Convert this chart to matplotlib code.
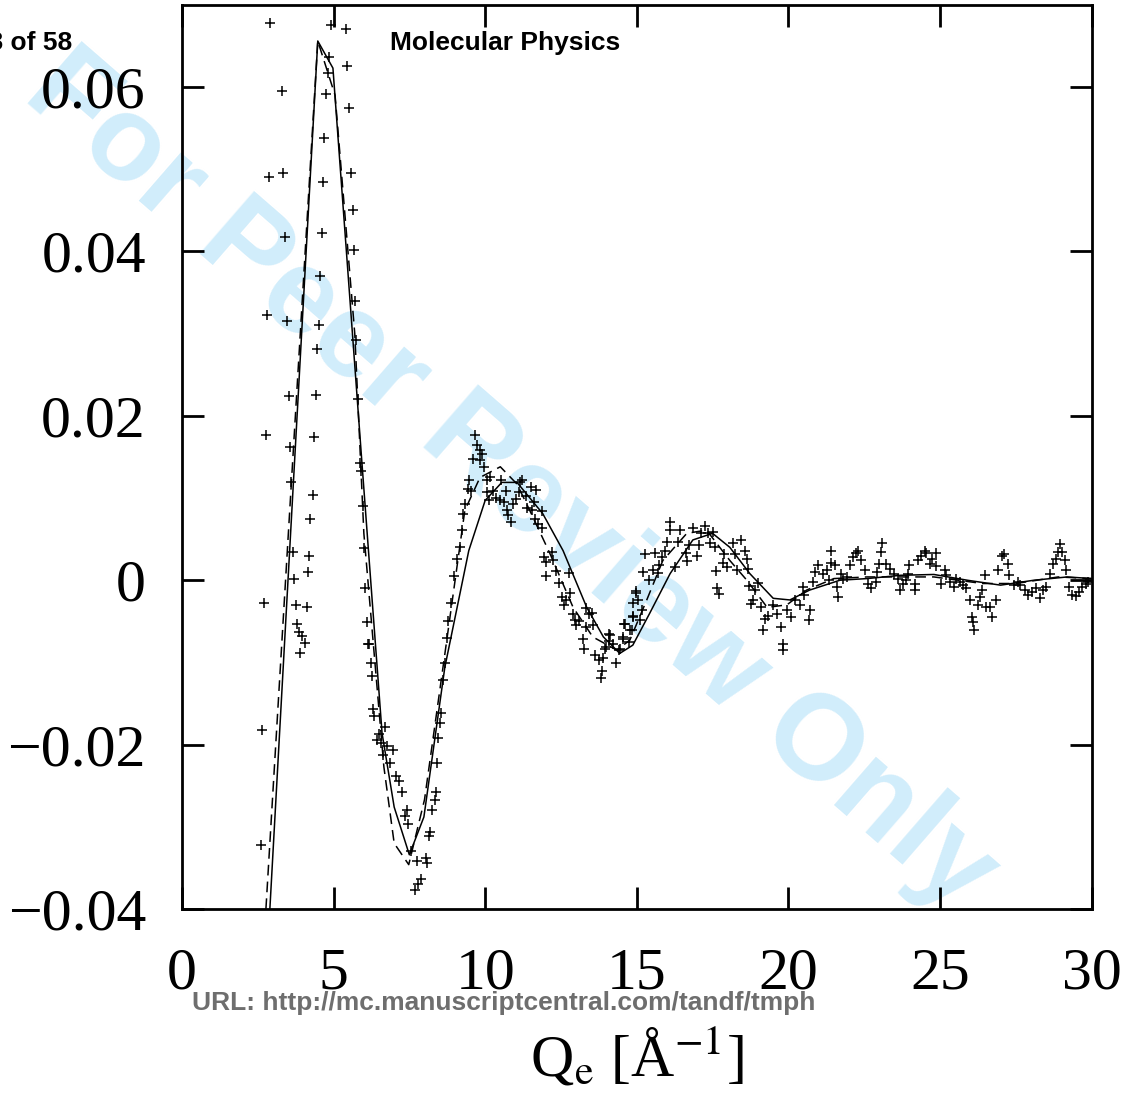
import numpy as np
import matplotlib
matplotlib.use('Agg')
import matplotlib.pyplot as plt

plt.rcParams['mathtext.fontset'] = 'stix'

# experimental points (Q_e, signal)
exp_points = [
    (2.60, -0.0322), (2.64, -0.0182), (2.70, -0.0028), (2.76, 0.0177), (2.81, 0.0323),
    (2.86, 0.0491), (2.90, 0.0678), (3.30, 0.0595), (3.34, 0.0495), (3.40, 0.0417),
    (3.47, 0.0315), (3.52, 0.0224), (3.56, 0.0162), (3.60, 0.0119), (3.65, 0.0034),
    (3.69, 0.0002), (3.76, -0.0030), (3.80, -0.0053), (3.87, -0.0063), (3.89, -0.0089),
    (3.96, -0.0068), (4.05, -0.0076), (4.11, -0.0032), (4.15, 0.0010), (4.20, 0.0029),
    (4.24, 0.0074), (4.31, 0.0104), (4.35, 0.0174), (4.41, 0.0225), (4.46, 0.0281),
    (4.51, 0.0310), (4.55, 0.0370), (4.61, 0.0423), (4.66, 0.0484), (4.70, 0.0538),
    (4.75, 0.0591), (4.81, 0.0617), (4.86, 0.0637), (4.90, 0.0675), (5.41, 0.0671),
    (5.45, 0.0626), (5.50, 0.0575), (5.56, 0.0496), (5.63, 0.0450), (5.67, 0.0402),
    (5.70, 0.0340), (5.74, 0.0292), (5.80, 0.0220), (5.87, 0.0143), (5.89, 0.0133),
    (5.98, 0.0090), (6.00, 0.0039), (6.04, -0.0009), (6.09, -0.0051), (6.13, -0.0078),
    (6.18, -0.0078), (6.22, -0.0101), (6.26, -0.0117), (6.31, -0.0157), (6.35, -0.0165),
    (6.44, -0.0194), (6.51, -0.0187), (6.57, -0.0198), (6.62, -0.0213), (6.70, -0.0178),
    (6.77, -0.0202), (6.86, -0.0222), (6.95, -0.0207), (7.06, -0.0238), (7.17, -0.0244),
    (7.25, -0.0258), (7.36, -0.0287), (7.41, -0.0279), (7.45, -0.0296), (7.54, -0.0330),
    (7.69, -0.0377), (7.76, -0.0341), (7.80, -0.0369), (7.87, -0.0363), (8.04, -0.0338),
    (8.09, -0.0344), (8.16, -0.0311), (8.18, -0.0306), (8.26, -0.0279), (8.33, -0.0267),
    (8.37, -0.0258), (8.42, -0.0222), (8.46, -0.0192), (8.51, -0.0174), (8.55, -0.0162),
    (8.60, -0.0121), (8.66, -0.0101), (8.73, -0.0070), (8.79, -0.0049), (8.88, -0.0028),
    (8.97, 0.0005), (9.06, 0.0026), (9.17, 0.0041), (9.23, 0.0061), (9.28, 0.0081),
    (9.32, 0.0093), (9.43, 0.0111), (9.47, 0.0122), (9.52, 0.0109), (9.61, 0.0148),
    (9.65, 0.0177), (9.72, 0.0164), (9.83, 0.0158), (9.83, 0.0146), (9.89, 0.0153),
    (9.96, 0.0138), (10.05, 0.0107), (10.07, 0.0122), (10.13, 0.0098), (10.15, 0.0126),
    (10.27, 0.0109), (10.35, 0.0100), (10.48, 0.0098), (10.51, 0.0122), (10.62, 0.0095),
    (10.68, 0.0109), (10.71, 0.0085), (10.76, 0.0079), (10.84, 0.0071), (10.92, 0.0093),
    (11.01, 0.0099), (11.12, 0.0107), (11.14, 0.0119), (11.23, 0.0122), (11.34, 0.0102),
    (11.39, 0.0088), (11.50, 0.0113), (11.56, 0.0085), (11.61, 0.0095), (11.64, 0.0075),
    (11.69, 0.0110), (11.75, 0.0069), (11.87, 0.0063), (11.89, 0.0084), (11.94, 0.0028),
    (12.02, 0.0022), (12.02, 0.0005), (12.22, 0.0034), (12.24, 0.0024), (12.35, 0.0011),
    (12.44, -0.0003), (12.55, -0.0020), (12.59, -0.0030), (12.66, -0.0024), (12.77, 0.0009),
    (12.79, -0.0016), (12.90, -0.0041), (12.96, -0.0048), (13.01, -0.0055), (13.10, -0.0049),
    (13.23, -0.0072), (13.25, -0.0084), (13.34, -0.0034), (13.34, -0.0057), (13.43, -0.0041),
    (13.54, -0.0040), (13.56, -0.0055), (13.63, -0.0091), (13.76, -0.0097), (13.83, -0.0119),
    (13.87, -0.0110), (13.89, -0.0095), (13.96, -0.0084), (14.00, -0.0081), (14.07, -0.0065),
    (14.09, -0.0074), (14.11, -0.0067), (14.22, -0.0078), (14.31, -0.0101), (14.42, -0.0085),
    (14.44, -0.0084), (14.53, -0.0071), (14.55, -0.0069), (14.57, -0.0053), (14.61, -0.0053),
    (14.75, -0.0075), (14.79, -0.0061), (14.83, -0.0061), (14.86, -0.0044), (14.88, -0.0045),
    (14.88, -0.0028), (14.97, -0.0016), (14.99, -0.0013), (15.05, -0.0024), (15.10, -0.0048),
    (15.16, -0.0036), (15.21, 0.0010), (15.27, 0.0032), (15.41, 0.0000), (15.54, 0.0012),
    (15.60, 0.0033), (15.71, 0.0009), (15.74, 0.0018), (15.82, 0.0028), (15.93, 0.0036),
    (16.00, 0.0047), (16.09, 0.0071), (16.11, 0.0061), (16.25, 0.0016), (16.36, 0.0047),
    (16.44, 0.0061), (16.64, 0.0033), (16.66, 0.0023), (16.73, 0.0043), (16.86, 0.0063),
    (16.99, 0.0030), (17.06, 0.0043), (17.13, 0.0057), (17.25, 0.0066), (17.35, 0.0057),
    (17.41, 0.0045), (17.50, 0.0059), (17.57, 0.0041), (17.61, 0.0011), (17.65, -0.0009),
    (17.72, -0.0017), (17.83, 0.0021), (17.87, 0.0032), (17.98, 0.0016), (18.16, 0.0045),
    (18.23, 0.0032), (18.29, 0.0013), (18.45, 0.0049), (18.56, 0.0036), (18.62, 0.0026),
    (18.67, 0.0014), (18.70, -0.0007), (18.78, -0.0029), (18.82, -0.0024), (18.89, -0.0012),
    (19.00, -0.0003), (19.11, -0.0032), (19.17, -0.0061), (19.22, -0.0047), (19.33, -0.0043),
    (19.50, -0.0030), (19.61, -0.0041), (19.77, -0.0057), (19.81, -0.0085), (19.83, -0.0077),
    (19.94, -0.0036), (20.10, -0.0045), (20.21, -0.0024), (20.38, -0.0030), (20.49, -0.0008),
    (20.51, -0.0018), (20.68, -0.0048), (20.71, -0.0036), (20.81, -0.0002), (20.87, 0.0010),
    (20.98, 0.0018), (21.14, 0.0008), (21.26, 0.0012), (21.34, 0.0000), (21.39, 0.0021),
    (21.42, 0.0036), (21.53, 0.0018), (21.59, -0.0008), (21.64, -0.0021), (21.75, 0.0008),
    (21.80, 0.0001), (21.94, 0.0004), (22.03, 0.0018), (22.13, 0.0028), (22.24, 0.0033),
    (22.30, 0.0036), (22.38, 0.0024), (22.52, 0.0012), (22.63, -0.0004), (22.74, -0.0010),
    (22.88, -0.0002), (22.92, 0.0010), (22.99, 0.0020), (23.07, 0.0034), (23.10, 0.0045),
    (23.23, 0.0020), (23.34, 0.0014), (23.47, 0.0008), (23.62, 0.0001), (23.67, -0.0012),
    (23.78, -0.0004), (23.87, 0.0000), (23.95, 0.0008), (23.98, 0.0018), (24.17, -0.0004),
    (24.17, -0.0012), (24.28, 0.0024), (24.39, 0.0029), (24.50, 0.0036), (24.55, 0.0033),
    (24.66, 0.0020), (24.75, 0.0026), (24.86, 0.0033), (24.88, 0.0017), (25.05, -0.0004),
    (25.16, 0.0012), (25.21, 0.0006), (25.32, -0.0002), (25.45, -0.0008), (25.54, 0.0002),
    (25.65, -0.0002), (25.76, -0.0006), (25.87, -0.0010), (25.98, -0.0024), (26.04, -0.0045),
    (26.09, -0.0051), (26.11, -0.0061), (26.25, -0.0030), (26.31, -0.0020), (26.37, -0.0012),
    (26.48, 0.0006), (26.53, -0.0032), (26.66, -0.0033), (26.70, -0.0045), (26.84, -0.0024),
    (26.91, 0.0013), (27.03, 0.0030), (27.10, 0.0032), (27.24, 0.0020), (27.28, 0.0006),
    (27.43, -0.0006), (27.57, -0.0002), (27.65, -0.0006), (27.79, -0.0012), (27.90, -0.0018),
    (28.05, -0.0014), (28.16, -0.0010), (28.29, -0.0022), (28.40, -0.0012), (28.51, -0.0008),
    (28.62, 0.0008), (28.73, 0.0020), (28.82, 0.0026), (28.89, 0.0034), (28.97, 0.0044),
    (29.04, 0.0034), (29.11, 0.0024), (29.17, 0.0012), (29.26, -0.0008), (29.37, -0.0018),
    (29.48, -0.0019), (29.59, -0.0014), (29.70, -0.0008), (29.81, -0.0004), (29.88, -0.0002),
]

# solid model curve
q_solid = [2.90, 4.48, 4.98, 5.93, 6.60, 7.00, 7.50, 7.98, 8.67, 9.46, 10.00, 10.55,
           11.05, 11.90, 12.57, 13.35, 13.90, 14.44, 14.87, 15.43, 16.10, 16.85, 17.50,
           18.07, 18.73, 19.50, 20.05, 20.70, 21.70, 22.60, 23.70, 24.80, 25.90, 27.00,
           28.10, 29.20, 30.00]
s_solid = [-0.0400, 0.0656, 0.0623, 0.0146, -0.0186, -0.0276, -0.0334, -0.0288, -0.0106,
           0.0036, 0.0097, 0.0119, 0.0119, 0.0081, 0.0036, -0.0033, -0.0069, -0.0089,
           -0.0079, -0.0040, 0.0008, 0.0049, 0.0057, 0.0040, 0.0008, -0.0022, -0.0024,
           -0.0012, 0.0000, 0.0002, 0.0006, 0.0007, 0.0000, -0.0006, 0.0000, 0.0004, 0.0002]

# dashed model curve
q_dash = [2.77, 4.48, 5.05, 5.70, 6.00, 6.66, 7.00, 7.48, 8.00, 8.67, 9.33, 9.83, 10.50,
          11.05, 11.47, 12.13, 12.90, 13.55, 14.34, 14.77, 15.33, 15.86, 16.65, 17.30,
          18.07, 18.63, 19.30, 19.95, 20.60, 21.50, 22.60, 23.70, 24.80, 26.40, 27.50,
          28.90, 30.00]
s_dash = [-0.0400, 0.0656, 0.0590, 0.0300, 0.0057, -0.0227, -0.0320, -0.0346, -0.0267,
          -0.0090, 0.0085, 0.0125, 0.0138, 0.0117, 0.0085, 0.0033, -0.0033, -0.0069,
          -0.0085, -0.0073, -0.0024, 0.0024, 0.0057, 0.0061, 0.0024, 0.0000, -0.0033,
          -0.0030, -0.0012, 0.0002, 0.0004, 0.0004, 0.0004, -0.0004, -0.0004, 0.0004, 0.0002]

x_ticks = [0, 5, 10, 15, 20, 25, 30]
y_ticks = [-0.04, -0.02, 0, 0.02, 0.04, 0.06]
y_labels = ['\u22120.04', '\u22120.02', '0', '0.02', '0.04', '0.06']

serif = 'Liberation Serif'
sans = 'Liberation Sans'

fig = plt.figure(figsize=(11.3, 10.96), dpi=100)
ax = fig.add_axes([0.161, 0.1706, 0.805, 0.825])
ax.patch.set_alpha(0)

# watermark behind everything
fig.text(0.452, 0.560, 'For Peer Review Only', rotation=-41, color='#d1edfb',
         fontsize=87, fontweight='bold', family=sans, ha='center', va='center',
         zorder=-5)

qe = [p[0] for p in exp_points]
se = [p[1] for p in exp_points]
ax.plot(qe, se, linestyle='none', marker='+', markersize=7, markeredgewidth=1.1,
        color='black')
ax.plot(q_solid, s_solid, '-', color='black', lw=1.1)
ax.plot(q_dash, s_dash, color='black', lw=1.1, dashes=(7, 4))

ax.set_xlim(0, 30)
ax.set_ylim(-0.04, 0.07)
ax.set_xticks(x_ticks)
ax.set_xticklabels([str(t) for t in x_ticks], family=serif, fontsize=43)
ax.set_yticks(y_ticks)
ax.set_yticklabels(y_labels, family=serif, fontsize=43)
ax.tick_params(direction='in', length=16, width=2, top=True, right=True, pad=26)
ax.tick_params(axis='x', pad=28)
for sp in ax.spines.values():
    sp.set_linewidth(2)

ax.set_xlabel('Q$_{\\mathrm{e}}$ [\u00c5$^{-1}$]', family=serif, fontsize=43,
              labelpad=16)

fig.text(72 / 1130, 1 - 43 / 1096, 'Page 8 of 58', family=sans, fontweight='bold',
         fontsize=19, ha='right', va='center')
fig.text(505 / 1130, 1 - 43 / 1096, 'Molecular Physics', family=sans,
         fontweight='bold', fontsize=19, ha='center', va='center')
fig.text(192 / 1130, 1 - 1003 / 1096, 'URL: http://mc.manuscriptcentral.com/tandf/tmph',
         family=sans, fontweight='bold', fontsize=19, color='#6e6e6e',
         ha='left', va='center')

fig.savefig('out.png', dpi=100)
